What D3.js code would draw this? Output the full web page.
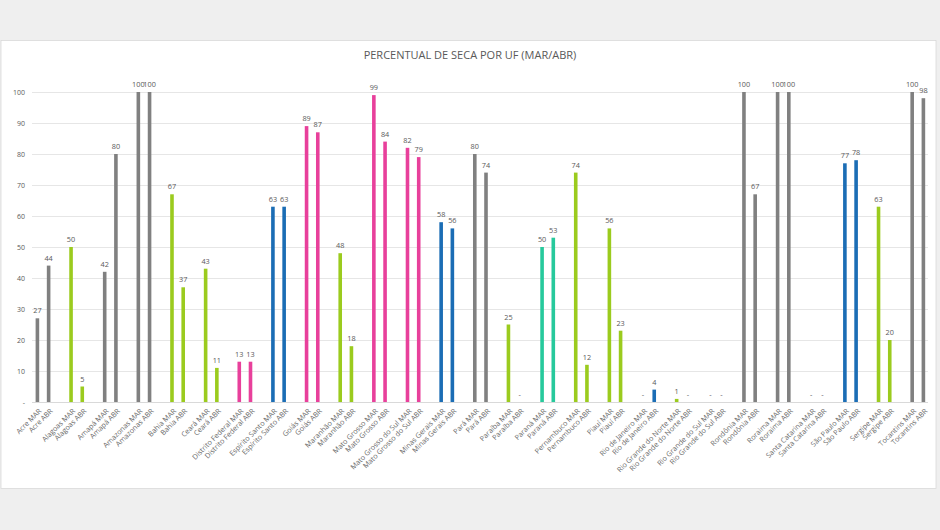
<!DOCTYPE html>
<html><head><meta charset="utf-8">
<script src="https://cdn.jsdelivr.net/npm/d3@7"></script>
<style>
html,body{margin:0;padding:0;background:#efefef;}
svg{display:block;font-family:"Open Sans","Noto Sans",sans-serif;}
</style></head>
<body>
<script>
const ufs = ["Acre","Alagoas","Amapá","Amazonas","Bahia","Ceará","Distrito Federal","Espírito Santo","Goiás","Maranhão","Mato Grosso","Mato Grosso do Sul","Minas Gerais","Pará","Paraíba","Paraná","Pernambuco","Piauí","Rio de Janeiro","Rio Grande do Norte","Rio Grande do Sul","Rondônia","Roraima","Santa Catarina","São Paulo","Sergipe","Tocantins"];
const marValues = [27,50,42,100,67,43,13,63,89,48,99,82,58,80,25,50,74,56,0,1,0,100,100,0,77,63,100];
const abrValues = [44,5,80,100,37,11,13,63,87,18,84,79,56,74,0,53,12,23,4,0,0,67,100,0,78,20,98];
const ufColorKeys = ["gray","green","gray","gray","green","green","pink","blue","pink","green","pink","pink","blue","gray","green","teal","green","green","blue","green","green","gray","gray","gray","blue","green","gray"];
const palette = {gray:"#808080",green:"#9bcb1e",pink:"#e8409b",blue:"#1b6db5",teal:"#27c99c"};
const yTicks = [0,10,20,30,40,50,60,70,80,90,100];
const title = "PERCENTUAL DE SECA POR UF (MAR/ABR)";

const W=940,H=530;
const svg=d3.select("body").append("svg").attr("width",W).attr("height",H);
svg.append("rect").attr("x",0).attr("y",0).attr("width",W).attr("height",H).attr("fill","#efefef");
svg.append("rect").attr("x",1).attr("y",40.5).attr("width",935).attr("height",448).attr("fill","#fff").attr("stroke","#d9d9d9").attr("stroke-width",0.8);

svg.append("text").attr("x",470).attr("y",59).attr("text-anchor","middle")
  .attr("font-size",11).attr("fill","#595959").text(title);

// build slots: MAR, ABR, blank for each UF (last blank omitted)
const slots=[];
ufs.forEach((u,i)=>{
  slots.push({key:u+" MAR",label:u+" MAR",v:marValues[i],c:palette[ufColorKeys[i]]});
  slots.push({key:u+" ABR",label:u+" ABR",v:abrValues[i],c:palette[ufColorKeys[i]]});
  if(i<ufs.length-1) slots.push({key:"gap"+i,label:"",v:null});
});

const x=d3.scaleBand().domain(slots.map(d=>d.key)).range([31.8,929]);
const y=d3.scaleLinear().domain([0,100]).range([402,92]);

// gridlines
svg.append("g").selectAll("line").data(yTicks).join("line")
  .attr("x1",32).attr("x2",928).attr("y1",d=>y(d)+0.5).attr("y2",d=>y(d)+0.5)
  .attr("stroke",d=>d===0?"#d9d9d9":"#e6e6e6").attr("stroke-width",1);

// y axis labels
const yAxis=d3.axisLeft(y).tickValues(yTicks).tickSize(0).tickPadding(0)
  .tickFormat(d=>d===0?"-":d);
const yg=svg.append("g").attr("transform","translate(25,0)").call(yAxis);
yg.select(".domain").remove();
yg.selectAll("text").attr("font-size",7).attr("fill","#595959").attr("font-family","Open Sans, sans-serif");

const data=slots.filter(d=>d.v!==null);
const bw=3.6;
svg.append("g").selectAll("rect").data(data).join("rect")
  .attr("x",d=>x(d.key)+x.bandwidth()/2-bw/2)
  .attr("width",bw)
  .attr("y",d=>y(d.v))
  .attr("height",d=>y(0)-y(d.v))
  .attr("fill",d=>d.c);

// value labels
svg.append("g").selectAll("text").data(data).join("text")
  .attr("x",d=>x(d.key)+x.bandwidth()/2)
  .attr("y",d=>y(d.v)-5)
  .attr("text-anchor","middle").attr("font-size",7.3).attr("fill","#595959")
  .text(d=>d.v===0?"-":d.v);

// x labels
const xg=svg.append("g").attr("transform","translate(0,409)");
xg.selectAll("text").data(data).join("text")
  .attr("transform",d=>`translate(${x(d.key)+x.bandwidth()/2+2},0) rotate(-45)`)
  .attr("text-anchor","end").attr("dy","0.5em")
  .attr("font-size",7.2).attr("fill","#6b6b6b")
  .text(d=>d.label);
</script>
</body></html>
